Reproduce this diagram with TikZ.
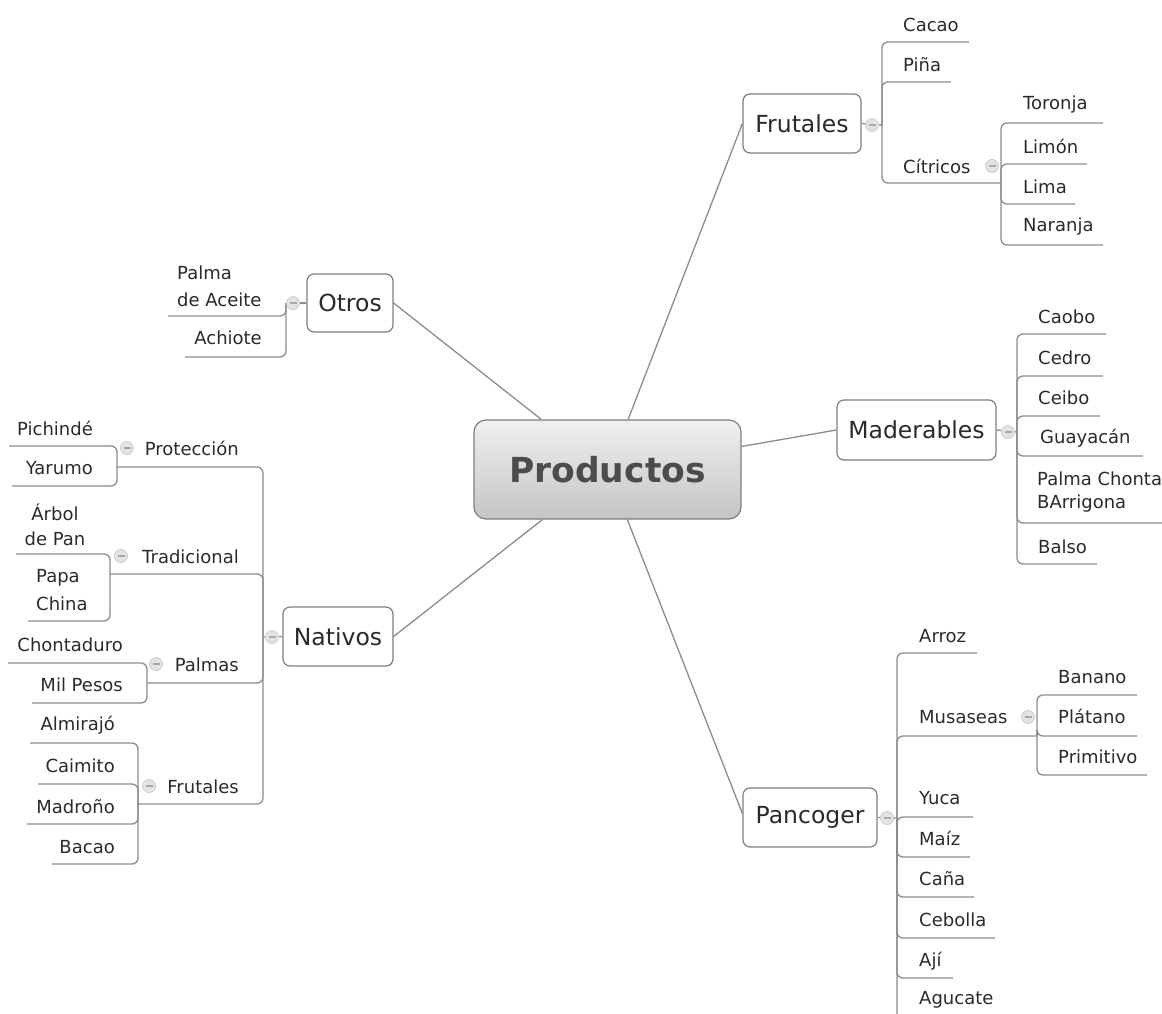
\documentclass[tikz,border=0pt]{standalone}
\usepackage{fontspec}
\setmainfont{DejaVu Sans}
\usetikzlibrary{calc}

\definecolor{linkc}{HTML}{8C8C8C}
\definecolor{boxc}{HTML}{7E7E7E}
\definecolor{txt}{HTML}{2A2A2A}
\definecolor{rootxt}{HTML}{4C4C4C}
\definecolor{btnfill}{HTML}{E3E3E3}
\definecolor{btnline}{HTML}{CDCDCD}
\definecolor{btnbar}{HTML}{A8A8A8}

\tikzset{
  link/.style={draw=linkc, line width=1.3pt, rounded corners=6pt},
  conn/.style={draw=linkc, line width=1.3pt},
  leaf/.style={text=txt, inner sep=0pt, anchor=west, yshift=-1.5pt,
    font=\fontsize{18}{25}\selectfont, text height=13pt, text depth=4pt},
  leafm/.style={text=txt, inner sep=0pt, font=\fontsize{18}{25}\selectfont},
  branch/.style={draw=boxc, line width=1.2pt, rounded corners=7pt, fill=white,
    text=txt, inner sep=0pt, font=\fontsize{23.5}{28}\selectfont},
  rootbox/.style={draw=boxc, line width=1.2pt, rounded corners=12pt,
    top color=white!94!black, bottom color=white!77!black,
    text=rootxt, inner sep=0pt, font=\fontsize{34.5}{40}\selectfont\bfseries},
  btn/.style={circle, draw=btnline, fill=btnfill, line width=0.8pt,
    minimum size=13pt, inner sep=0pt,
    path picture={\draw[btnbar, line width=1.1pt]
      ([xshift=-3.5pt]path picture bounding box.center) --
      ([xshift=3.5pt]path picture bounding box.center);}}
}

% child topic: options, name, junction, text x, text y, label, line y, line end x
\newcommand\kid[8]{%
  \node[leaf,#1] (#2) at (#4,#5) {#6};
  \coordinate (#2-e) at (#8,#7);
  \draw[link] (#3) |- (#2-e);}

\begin{document}
\begin{tikzpicture}[x=1pt, y=-1pt]
\clip (0,0) rectangle (1162,1013);

% ---- central topic and main branches
\node[rootbox, minimum width=267pt, minimum height=99pt] (prod) at (607.5,469.5) {Productos};
\node[branch, minimum width=118pt, minimum height=59pt] (frut) at (802,123.5) {Frutales};
\node[branch, minimum width=159pt, minimum height=60pt] (mad) at (916.5,430) {Maderables};
\node[branch, minimum width=134pt, minimum height=59pt] (pan) at (810,817.5) {Pancoger};
\node[branch, minimum width=86pt, minimum height=58pt] (otros) at (350,303) {Otros};
\node[branch, minimum width=110pt, minimum height=59pt] (nat) at (338,636.5) {Nativos};

\draw[conn] ($(prod.north west)!0.253!(prod.north east)$) -- (otros.east);
\draw[conn] ($(prod.north west)!0.577!(prod.north east)$) -- (frut.west);
\draw[conn] ($(prod.north east)!0.27!(prod.south east)$) -- (mad.west);
\draw[conn] ($(prod.south west)!0.574!(prod.south east)$) -- ([yshift=4pt]pan.west);
\draw[conn] ($(prod.south west)!0.257!(prod.south east)$) -- (nat.east);

% ---- Frutales
\coordinate (frut-b) at (872,125);
\coordinate (frut-j) at (882,125);
\draw[conn] (frut.east) -- (frut-j);
\kid{}{cacao}{frut-j}{903}{25}{Cacao}{42}{969}
\kid{}{pina}{frut-j}{903}{65}{Piña}{82}{951}
\kid{}{citr}{frut-j}{903}{167}{Cítricos}{183}{1001}
\coordinate (citr-b) at (992,166);
\kid{}{toronja}{citr-e}{1023}{103}{Toronja}{123}{1103}
\kid{}{limon}{citr-e}{1023}{147}{Limón}{164}{1087}
\kid{}{lima}{citr-e}{1023}{187}{Lima}{204}{1075}
\kid{}{naranja}{citr-e}{1023}{225}{Naranja}{245}{1103}

% ---- Maderables
\coordinate (mad-b) at (1008,432);
\coordinate (mad-j) at (1017,432);
\draw[conn] (mad.east) -- (mad-j);
\kid{}{caobo}{mad-j}{1038}{317}{Caobo}{334}{1106}
\kid{}{cedro}{mad-j}{1038}{358}{Cedro}{376}{1103}
\kid{}{ceibo}{mad-j}{1038}{398}{Ceibo}{416}{1100}
\kid{}{guay}{mad-j}{1040}{437}{Guayacán}{456}{1143}
\node[leafm, anchor=west, align=left] (palmach) at (1037,492) {Palma Chonta\\[-2pt]BArrigona};
\coordinate (palmach-e) at (1175,523);
\draw[link] (mad-j) |- (palmach-e);
\kid{}{balso}{mad-j}{1038}{547}{Balso}{564}{1097}

% ---- Pancoger
\coordinate (pan-b) at (887,818);
\coordinate (pan-j) at (897,818);
\draw[conn] (pan.east) -- (pan-j);
\kid{}{arroz}{pan-j}{919}{636}{Arroz}{653}{977}
\kid{}{musa}{pan-j}{919}{717}{Musaseas}{736}{1037}
\coordinate (musa-b) at (1028,717);
\kid{}{banano}{musa-e}{1058}{677}{Banano}{695}{1137}
\kid{}{platano}{musa-e}{1058}{717}{Plátano}{736}{1137}
\kid{}{primitivo}{musa-e}{1058}{757}{Primitivo}{775}{1147}
\kid{}{yuca}{pan-j}{919}{798}{Yuca}{817}{973}
\kid{}{maiz}{pan-j}{919}{839}{Maíz}{857}{970}
\kid{}{cana}{pan-j}{919}{879}{Caña}{897}{974}
\kid{}{cebolla}{pan-j}{919}{920}{Cebolla}{938}{995}
\kid{}{aji}{pan-j}{919}{960}{Ají}{978}{953}
\kid{}{agucate}{pan-j}{919}{998}{Agucate}{1022}{1000}

% ---- Otros
\coordinate (otros-b) at (293,303);
\coordinate (otros-j) at (286,303);
\draw[conn] (otros.west) -- (otros-j);
\node[leafm, anchor=west, align=left] (palmaac) at (177,286) {Palma\\[2pt]de Aceite};
\coordinate (palmaac-e) at (168,316);
\draw[link] (otros-j) |- (palmaac-e);
\kid{anchor=east}{achiote}{otros-j}{262}{338}{Achiote}{357}{185}

% ---- Nativos
\coordinate (nat-b) at (272,637);
\coordinate (nat-j) at (263,637);
\draw[conn] (nat.west) -- (nat-j);
\kid{anchor=east}{prot}{nat-j}{239}{449}{Protección}{467}{117}
\coordinate (prot-b) at (127,448);
\kid{anchor=east}{pichinde}{prot-e}{93}{429}{Pichindé}{446}{9}
\kid{anchor=east}{yarumo}{prot-e}{93}{468}{Yarumo}{486}{12}
\kid{anchor=east}{trad}{nat-j}{239}{557}{Tradicional}{574}{110}
\coordinate (trad-b) at (121,556);
\node[leafm, align=center] (arbol) at (55,525) {Árbol\\de Pan};
\coordinate (arbol-e) at (16,554);
\draw[link] (trad-e) |- (arbol-e);
\node[leafm, anchor=west, align=left] (papa) at (36,590) {Papa\\[3pt]China};
\coordinate (papa-e) at (28,621);
\draw[link] (trad-e) |- (papa-e);
\kid{anchor=east}{palmas}{nat-j}{239}{665}{Palmas}{683}{147}
\coordinate (palmas-b) at (156,664);
\kid{anchor=east}{chonta}{palmas-e}{123}{645}{Chontaduro}{663}{8}
\kid{anchor=east}{milpesos}{palmas-e}{123}{685}{Mil Pesos}{703}{32}
\kid{anchor=east}{frutn}{nat-j}{239}{787}{Frutales}{804}{138}
\coordinate (frutn-b) at (149,786);
\kid{anchor=east}{almirajo}{frutn-e}{115}{724}{Almirajó}{743}{30}
\kid{anchor=east}{caimito}{frutn-e}{115}{766}{Caimito}{784}{38}
\kid{anchor=east}{madrono}{frutn-e}{115}{807}{Madroño}{824}{27}
\kid{anchor=east}{bacao}{frutn-e}{115}{847}{Bacao}{864}{52}

% ---- collapse buttons on top of the links
\foreach \b in {frut,citr,mad,pan,musa,otros,nat,prot,trad,palmas,frutn}
  \node[btn] (\b-btn) at (\b-b) {};
\end{tikzpicture}
\end{document}
